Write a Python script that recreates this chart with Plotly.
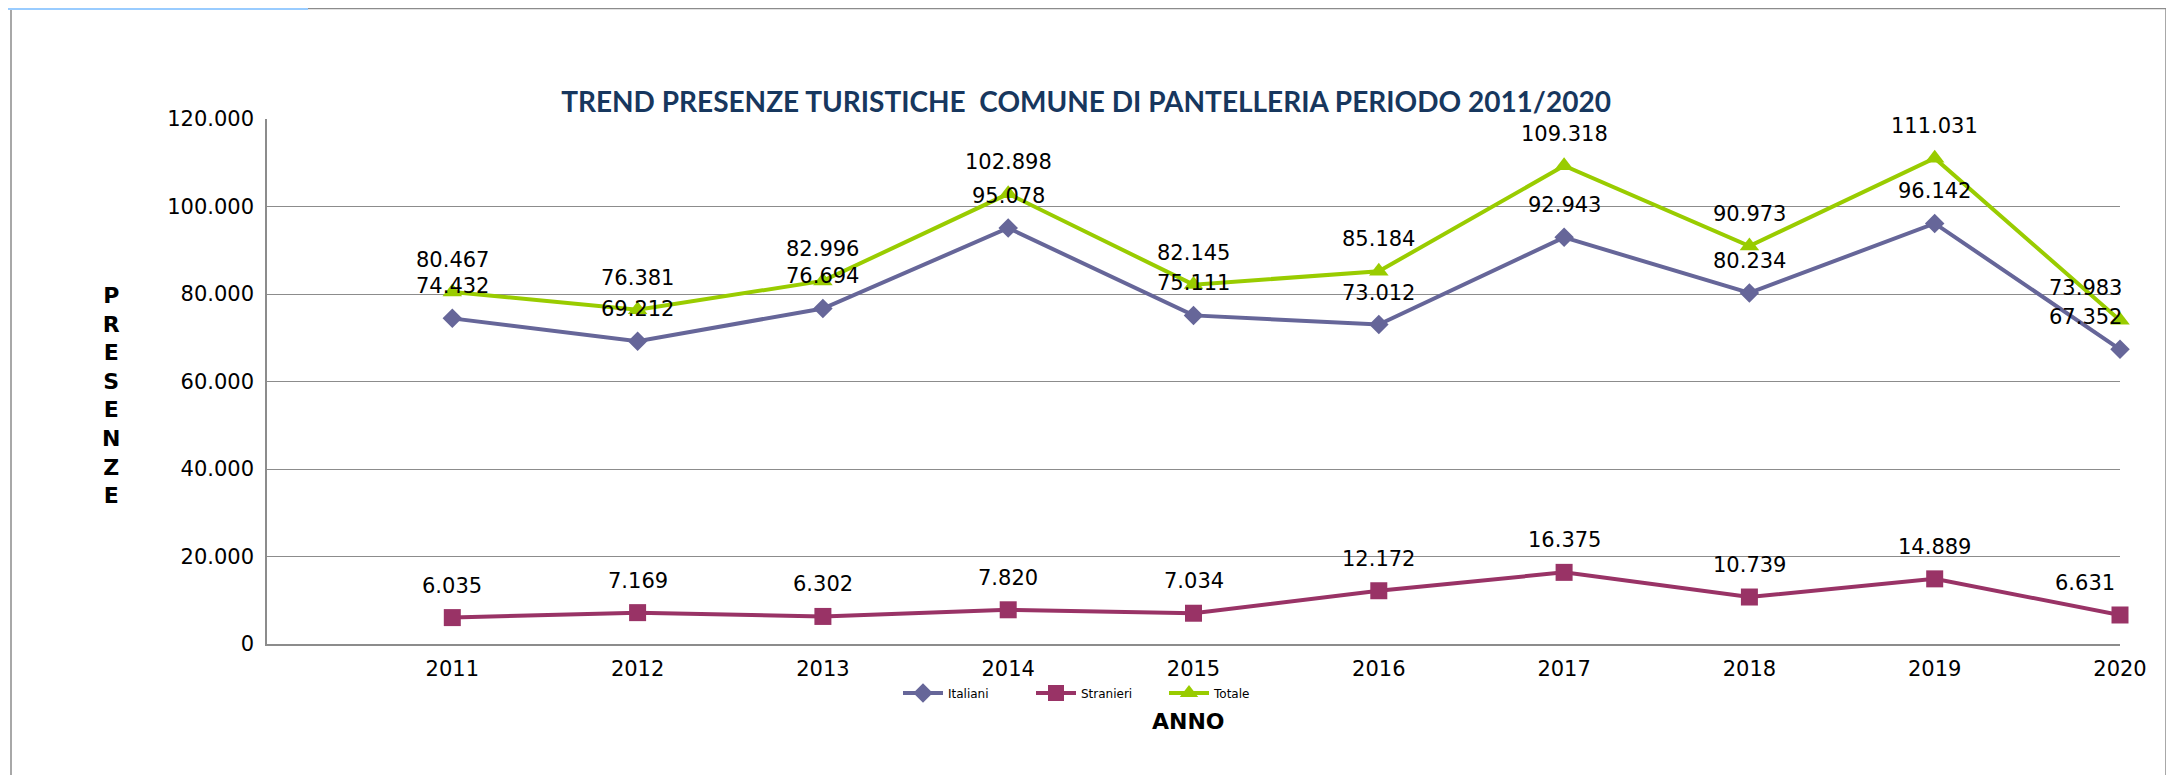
import plotly.graph_objects as go

years = [2011, 2012, 2013, 2014, 2015, 2016, 2017, 2018, 2019, 2020]
italiani = [74432, 69212, 76694, 95078, 75111, 73012, 92943, 80234, 96142, 67352]
stranieri = [6035, 7169, 6302, 7820, 7034, 12172, 16375, 10739, 14889, 6631]
totale = [80467, 76381, 82996, 102898, 82145, 85184, 109318, 90973, 111031, 73983]
y_ticks = [0, 20000, 40000, 60000, 80000, 100000, 120000]

W, H = 2174, 775
L, R, T, B = 259, 62, 111, 139
PW = W - L - R
PH = H - T - B

def px_x(px):
    return (px - L) / PW

def px_y(py):
    return (H - B - py) / PH

def fmt(v):
    return f"{v:,}".replace(",", ".")

label_font = dict(family="DejaVu Sans", size=21, color="black")

fig = go.Figure()
series = [
    ("Italiani", italiani, "#666699", "diamond", 15),
    ("Stranieri", stranieri, "#993366", "square", 17),
    ("Totale", totale, "#99CC00", "triangle-up", 17),
]
annotations = []
for name, vals, color, sym, msize in series:
    fig.add_trace(go.Scatter(
        x=years, y=vals, name=name, mode="lines+markers",
        line=dict(color=color, width=4),
        marker=dict(symbol=sym, size=msize, color=color),
        cliponaxis=False,
    ))
    for i, (yr, v) in enumerate(zip(years, vals)):
        annotations.append(dict(
            x=yr, y=v, xref="x", yref="y", text=fmt(v), showarrow=False,
            xanchor="center", yanchor="middle", yshift=32,
            xshift=-35 if i == len(years) - 1 else 0,
            font=label_font,
        ))

annotations += [
    dict(text="<b>P<br>R<br>E<br>S<br>E<br>N<br>Z<br>E</b>", x=px_x(103), y=px_y(387),
         xref="paper", yref="paper", showarrow=False, xanchor="center", yanchor="middle",
         font=dict(family="DejaVu Sans", size=22, color="black")),
    dict(text="<b>ANNO</b>", x=px_x(1180), y=px_y(713), xref="paper", yref="paper",
         showarrow=False, xanchor="center", yanchor="middle",
         font=dict(family="DejaVu Sans", size=22, color="black")),
]

fig.update_layout(
    width=W, height=H,
    margin=dict(l=L, r=R, t=T, b=B),
    paper_bgcolor="white", plot_bgcolor="white",
    separators=",.",
    showlegend=True,
    title=dict(
        text="<b>TREND PRESENZE TURISTICHE  COMUNE DI PANTELLERIA PERIODO 2011/2020</b>",
        x=1078 / W, y=1 - 94 / H, xanchor="center", yanchor="middle",
        font=dict(family="Lato, sans-serif", size=28, color="#17375E"),
    ),
    legend=dict(
        orientation="h", x=px_x(890), y=px_y(685), xanchor="left", yanchor="middle",
        font=dict(family="DejaVu Sans", size=12, color="black"),
        bgcolor="rgba(0,0,0,0)", entrywidth=78, entrywidthmode="pixels",
        itemwidth=40,
    ),
    xaxis=dict(
        range=[2010, 2020], tickvals=years, ticktext=[str(y) for y in years],
        showgrid=False, showline=True, linecolor="#8c8c8c", linewidth=1.5,
        ticks="", tickfont=label_font, ticklabelstandoff=5, zeroline=False,
    ),
    yaxis=dict(
        range=[0, 120000], tickvals=y_ticks, tickformat=",.0f",
        showgrid=True, gridcolor="#8c8c8c", gridwidth=1,
        showline=True, linecolor="#8c8c8c", linewidth=1.5,
        ticks="", tickfont=label_font, ticklabelstandoff=7, zeroline=False,
    ),
    annotations=annotations,
    shapes=[
        dict(type="rect", xref="paper", yref="paper",
             x0=px_x(3), x1=px_x(2158), y0=px_y(790), y1=px_y(0.5),
             line=dict(color="#8c8c8c", width=1.5), fillcolor="rgba(0,0,0,0)", layer="below"),
        dict(type="line", xref="paper", yref="paper",
             x0=px_x(0), x1=px_x(300), y0=px_y(1), y1=px_y(1),
             line=dict(color="#99CCFF", width=2)),
    ],
)

fig.write_html("out.html")
